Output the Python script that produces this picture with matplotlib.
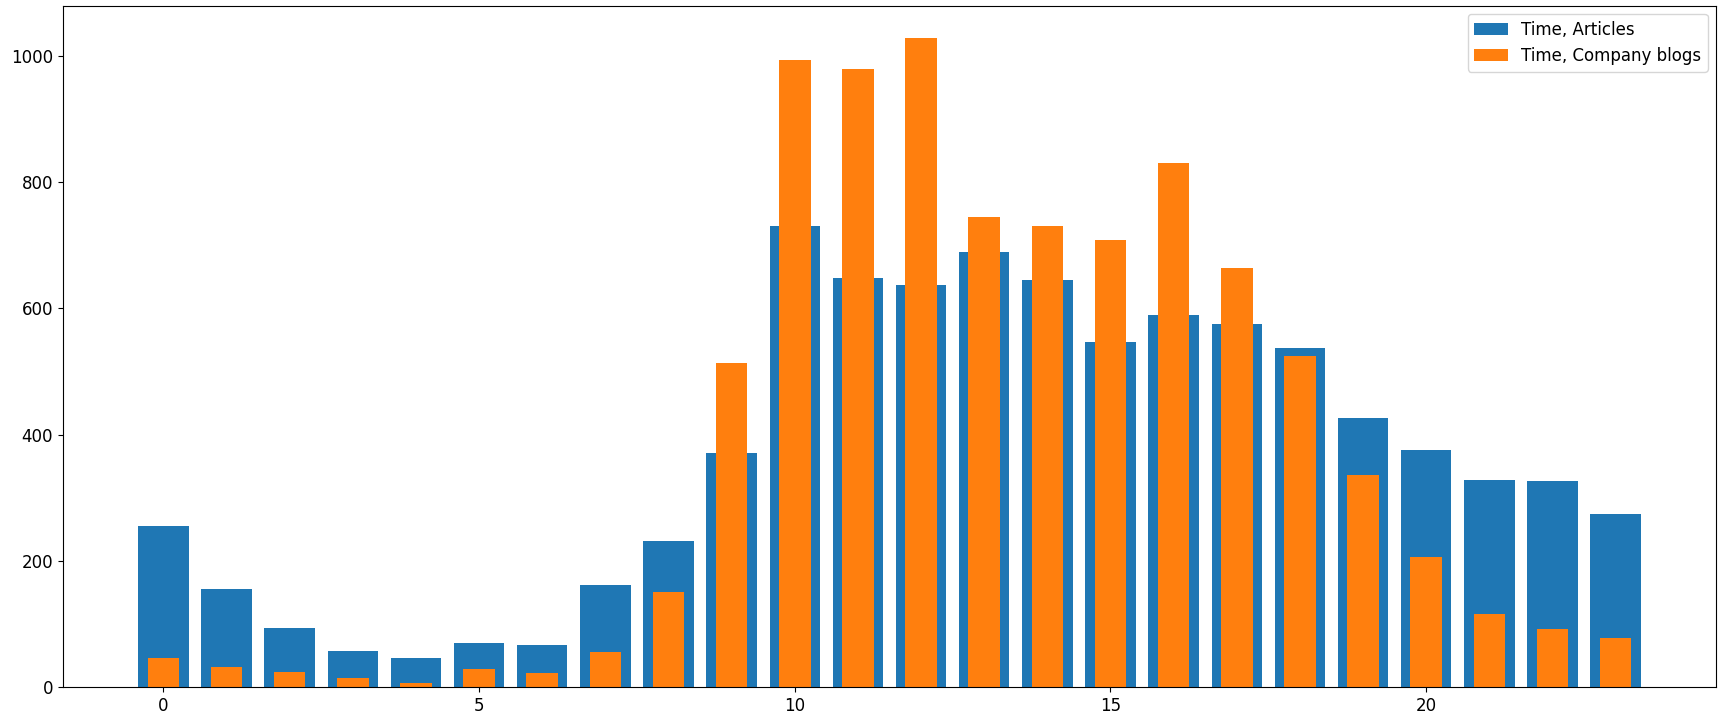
import numpy as np
import matplotlib
matplotlib.use('Agg')
import matplotlib.pyplot as plt

hours = np.arange(24)
articles = [256, 155, 93, 57, 46, 70, 67, 161, 231, 371, 731, 648,
            637, 690, 645, 547, 589, 576, 537, 427, 376, 328, 326, 275]
company_blogs = [46, 32, 24, 14, 6, 28, 22, 56, 150, 514, 993, 980,
                 1028, 745, 731, 709, 830, 664, 524, 336, 206, 116, 92, 78]

plt.rcParams['font.size'] = 12

fig, ax = plt.subplots(figsize=(17.25, 7.21), dpi=100)
fig.subplots_adjust(left=0.0365, right=0.9948, top=0.992, bottom=0.047)

ax.bar(hours, articles, width=0.8, label='Time, Articles')
ax.bar(hours, company_blogs, width=0.5, label='Time, Company blogs')
ax.legend(loc='upper right')

fig.savefig('out.png', dpi=100)
